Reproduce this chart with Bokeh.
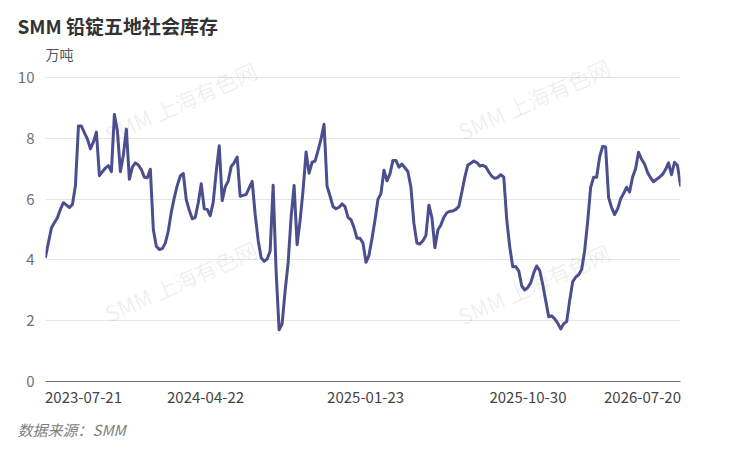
import math
import pandas as pd
from bokeh.plotting import figure
from bokeh.models import ColumnDataSource, Range1d, FixedTicker, Label, Title
from bokeh.embed import file_html
from bokeh.resources import INLINE

# ---------------- data ----------------
title_text = "SMM 铅锭五地社会库存"
unit_text = "万吨"
source_text = "数据来源：SMM"
watermark_text = "SMM 上海有色网"
start_date = "2023-07-21"
end_date = "2026-07-20"
x_tick_labels = ["2023-07-21", "2024-04-22", "2025-01-23", "2025-10-30", "2026-07-20"]
y_ticks = [0, 2, 4, 6, 8, 10]

inventory = [
    4.10, 4.58, 5.06, 5.23, 5.39, 5.67, 5.88, 5.80, 5.72, 5.82,
    6.45, 8.40, 8.40, 8.18, 7.97, 7.65, 7.88, 8.20, 6.77, 6.90,
    7.02, 7.10, 6.90, 8.78, 8.25, 6.90, 7.45, 8.30, 6.65, 7.05,
    7.19, 7.12, 6.97, 6.72, 6.70, 6.98, 5.00, 4.45, 4.34, 4.37,
    4.55, 4.95, 5.57, 6.05, 6.45, 6.76, 6.84, 5.98, 5.63, 5.35,
    5.40, 5.88, 6.50, 5.68, 5.66, 5.45, 5.90, 6.90, 7.75, 5.95,
    6.40, 6.59, 7.07, 7.20, 7.38, 6.09, 6.12, 6.15, 6.37, 6.58,
    5.50, 4.64, 4.07, 3.95, 4.03, 4.29, 6.45, 3.60, 1.70, 1.90,
    2.98, 3.90, 5.41, 6.45, 4.50, 5.30, 6.30, 7.55, 6.85, 7.21,
    7.25, 7.60, 7.98, 8.46, 6.42, 6.10, 5.75, 5.68, 5.73, 5.84,
    5.75, 5.40, 5.32, 5.06, 4.71, 4.71, 4.55, 3.92, 4.15, 4.70,
    5.30, 5.99, 6.18, 6.95, 6.60, 6.83, 7.27, 7.27, 7.05, 7.15,
    7.03, 6.90, 6.39, 5.20, 4.55, 4.52, 4.63, 4.80, 5.80, 5.40,
    4.40, 4.98, 5.15, 5.40, 5.55, 5.60, 5.61, 5.66, 5.76, 6.23,
    6.72, 7.12, 7.18, 7.25, 7.20, 7.09, 7.11, 7.06, 6.89, 6.75,
    6.68, 6.71, 6.80, 6.72, 5.31, 4.42, 3.77, 3.78, 3.64, 3.14,
    3.01, 3.09, 3.25, 3.57, 3.80, 3.65, 3.20, 2.66, 2.13, 2.16,
    2.06, 1.92, 1.73, 1.90, 1.97, 2.66, 3.28, 3.43, 3.51, 3.68,
    4.30, 5.25, 6.38, 6.72, 6.72, 7.38, 7.73, 7.71, 6.05, 5.72,
    5.49, 5.67, 6.00, 6.18, 6.39, 6.23, 6.72, 7.00, 7.54, 7.31,
    7.15, 6.87, 6.70, 6.57, 6.65, 6.72, 6.81, 6.97, 7.19, 6.80,
    7.21, 7.10, 6.45,
]

# ---------------- build ----------------
dates = pd.date_range(start_date, end_date, periods=len(inventory))
src = ColumnDataSource(dict(date=dates, value=inventory))

def ms(d):
    return int(pd.Timestamp(d).value // 1_000_000)

t0, t1 = ms(start_date), ms(end_date)

W, H = 740, 457
BL, BR, BT, BB = 45, 60, 45, 76
frame_w = W - BL - BR
Y_TOP = 11.05   # headroom above the 10 gridline holds the unit label

FONT = "Noto Sans CJK SC"

p = figure(width=W, height=H, output_backend="svg", toolbar_location=None,
           x_range=Range1d(t0, t1), y_range=Range1d(0, Y_TOP),
           min_border_left=BL, min_border_right=BR,
           min_border_top=BT, min_border_bottom=BB)
p.outline_line_color = None
p.background_fill_color = "white"
p.border_fill_color = "white"

# title
p.title.text = title_text
p.title.align = "left"
p.title.offset = -28
p.title.text_font = FONT
p.title.text_font_size = "19px"
p.title.text_font_style = "bold"
p.title.text_color = "#333333"
p.title.standoff = 14

# unit label above the 10 gridline
p.add_layout(Label(x=0, y=328, x_units="screen", y_units="screen",
                   text=unit_text, text_font=FONT, text_font_size="14px",
                   text_color="#555555", text_align="left", text_baseline="middle"))

src_title = Title(text=source_text, align="left", offset=-28, text_font=FONT,
                  text_font_size="15px", text_font_style="italic",
                  text_color="#808080", standoff=22)
p.add_layout(src_title, "below")

# watermarks (behind the line)
wm_pos = [(135, 280), (488, 283), (135, 101), (488, 98)]
for (sx, sy) in wm_pos:
    p.add_layout(Label(x=sx, y=sy, x_units="screen", y_units="screen",
                       text=watermark_text, text_font=FONT, text_font_size="22px",
                       text_color="#000000", text_alpha=0.07,
                       angle=math.radians(24), text_align="center",
                       text_baseline="middle", level="underlay"))

p.line(x="date", y="value", source=src, line_color="#4b4f8e",
       line_width=3, line_join="round", line_cap="round")

# y axis
ya = p.yaxis[0]
ya.ticker = FixedTicker(ticks=y_ticks)
ya.axis_line_color = None
ya.major_tick_line_color = None
ya.minor_tick_line_color = None
ya.major_tick_out = 0
ya.major_tick_in = 0
ya.major_label_standoff = 11
ya.major_label_text_font = FONT
ya.major_label_text_font_size = "15px"
ya.major_label_text_color = "#6e7079"

p.ygrid.grid_line_color = "#e6e6e6"
p.ygrid.ticker = FixedTicker(ticks=y_ticks)
p.xgrid.grid_line_color = None

# x axis: first/last labels kept inside the frame like the original
span = t1 - t0
half_label = 38 / frame_w * span
tick_pos = [ms(d) for d in x_tick_labels]
tick_pos[0] = int(tick_pos[0] + half_label)
tick_pos[-1] = int(tick_pos[-1] - half_label)
xa = p.xaxis[0]
xa.ticker = FixedTicker(ticks=tick_pos)
xa.major_label_overrides = {tp: lab for tp, lab in zip(tick_pos, x_tick_labels)}
xa.axis_line_color = "#6e7079"
xa.axis_line_width = 1
xa.major_tick_line_color = None
xa.minor_tick_line_color = None
xa.major_tick_out = 0
xa.major_tick_in = 0
xa.major_label_standoff = 10
xa.major_label_text_font = FONT
xa.major_label_text_font_size = "15px"
xa.major_label_text_color = "#444444"

open("out.html", "w").write(file_html(p, INLINE))
